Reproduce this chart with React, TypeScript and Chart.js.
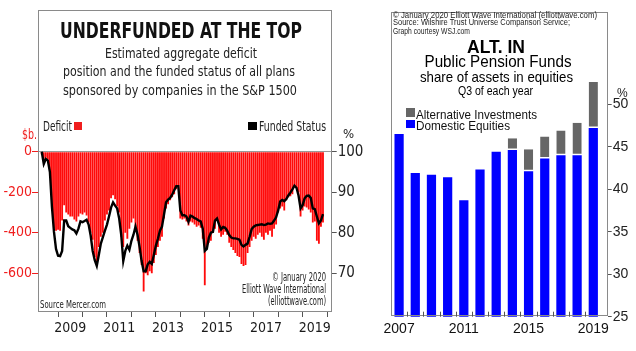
import React, { useEffect, useRef } from "react";
import { Chart, registerables } from "chart.js";
Chart.register(...registerables);

// ---------- Left chart data (monthly, May 2008 .. Nov 2019) ----------
const deficit: number[] = [
  -15, -45, -30, -40, -120, -280, -380, -390, -385, -390,
  -340, -265, -300, -310, -320, -320, -335, -345, -320, -305,
  -310, -300, -315, -350, -400, -435, -520, -540, -470, -420,
  -400, -340, -310, -290, -230, -215, -235, -270, -300, -420,
  -470, -400, -430, -380, -350, -330, -370, -440, -500, -560,
  -690, -600, -610, -590, -600, -550, -510, -470, -440, -420,
  -330, -280, -260, -240, -225, -210, -185, -165, -330, -335,
  -330, -345, -365, -345, -350, -360, -370, -365, -375, -430,
  -660, -470, -450, -440, -400, -380, -340, -400, -420, -410,
  -395, -410, -450, -470, -485, -500, -515, -520, -555, -565,
  -560, -500, -470, -440, -420, -430, -410, -400, -420, -435,
  -400, -410, -390, -420, -380, -360, -300, -280, -270, -290,
  -240, -225, -220, -210, -170, -180, -200, -320, -290, -270,
  -275, -285, -300, -350, -345, -440, -455, -370, -350,
];
const funded: number[] = [
  100, 97, 98.2, 97.8, 95, 86.4, 80.2, 76, 74.3, 74.2,
  75.5, 83, 83, 81.6, 81.2, 80.8, 80.6, 79.8, 81, 82.8,
  82.6, 82.9, 83.2, 82, 79.3, 75.5, 73.2, 71.8, 74.5, 77.3,
  78.9, 80.5, 82, 84, 86.2, 87.5, 86.7, 86, 83.5, 79.5,
  73, 75.5, 76.8, 75.8, 78, 79.5, 81.5, 79.5, 76.5, 73,
  70.5, 70.5, 72.2, 72.8, 72.3, 74.5, 76.8, 78.5, 80.5, 81.5,
  84.5, 87.5, 88.2, 88.6, 89.4, 90.5, 91.5, 91.5, 85.5, 84.3,
  84.3, 84, 82.7, 84.2, 84, 83.6, 83.4, 83, 82.8, 81,
  75.5, 76, 78.8, 80, 80.2, 83, 83.5, 82, 80.8, 81.4,
  81.2, 80.5, 79.4, 78.8, 78.6, 78.6, 78.5, 78.3, 77, 76.6,
  77, 77.3, 79, 80.9, 81.5, 81.8, 81.9, 82, 82.1, 81.9,
  82, 82.3, 82.2, 82.3, 83, 83.8, 85.5, 87.7, 88.1, 87.8,
  88.3, 89.2, 89.9, 90.7, 91.6, 91.1, 89.2, 86, 86.8, 88.5,
  89.1, 89.2, 88.6, 86, 85.8, 84, 82.3, 83, 84.6,
];
// month labels "YYYY-MM", starting at 2008-05
const months: string[] = deficit.map((_, i) => {
  const m = 4 + i;
  return `${2008 + Math.floor(m / 12)}-${String((m % 12) + 1).padStart(2, "0")}`;
});
const leftYearTicks: number[] = [2009, 2010, 2011, 2012, 2013, 2014, 2015, 2016, 2017, 2018, 2019, 2020];
const leftYearLabels: number[] = [2009, 2011, 2013, 2015, 2017, 2019];
const deficitTicks: number[] = [-600, -400, -200, 0];
const fundedTicks: number[] = [70, 80, 90, 100];

// ---------- Right chart data ----------
const years: number[] = [2007, 2008, 2009, 2010, 2011, 2012, 2013, 2014, 2015, 2016, 2017, 2018, 2019];
const domesticEquities: number[] = [46.5, 41.9, 41.7, 41.4, 38.7, 42.3, 44.4, 44.6, 42.1, 43.6, 44.0, 44.0, 47.2];
const alternativeInv: (number | null)[] = [null, null, null, null, null, null, null, 1.4, 2.6, 2.6, 2.9, 3.8, 5.4];
const rightYearLabels: number[] = [2007, 2011, 2015, 2019];
const pctTicks: number[] = [25, 30, 35, 40, 45, 50];

const NARROW = "'Liberation Sans Narrow', 'Arial Narrow', 'DejaVu Sans Condensed', sans-serif";
const SANS = "'Liberation Sans', Arial, Helvetica, sans-serif";
const RED = "#f01e1e";

const monthToYear = (s: string) => {
  const [y, m] = s.split("-").map(Number);
  return y + (m - 1) / 12;
};

function txt(ctx: CanvasRenderingContext2D, s: string, x: number, y: number, font: string, color: string, align: CanvasTextAlign = "left", maxW?: number) {
  ctx.font = font;
  ctx.fillStyle = color;
  ctx.textAlign = align;
  ctx.textBaseline = "alphabetic";
  if (maxW) ctx.fillText(s, x, y, maxW);
  else ctx.fillText(s, x, y);
}

const leftDecor = {
  id: "leftDecor",
  afterDraw(chart: any) {
    const ctx: CanvasRenderingContext2D = chart.ctx;
    const a = chart.chartArea;
    ctx.save();
    ctx.strokeStyle = "#8a8a8a";
    ctx.lineWidth = 1;
    ctx.strokeRect(Math.round(a.left) + 0.5, Math.round(a.top) + 0.5, Math.round(a.right - a.left) - 1, Math.round(a.bottom - a.top) - 1);
    txt(ctx, "UNDERFUNDED AT THE TOP", 181, 38, `bold 22px ${NARROW}`, "#111", "center", 242);
    txt(ctx, "Estimated aggregate deficit", 181, 57.5, `14px ${NARROW}`, "#222", "center", 152);
    txt(ctx, "position and the funded status of all plans", 179, 76, `14px ${NARROW}`, "#222", "center", 232);
    txt(ctx, "sponsored by companies in the S&P 1500", 180, 94.5, `14px ${NARROW}`, "#222", "center", 234);
    txt(ctx, "Deficit", 43, 130.5, `14px ${NARROW}`, "#222", "left", 29);
    ctx.fillStyle = RED;
    ctx.fillRect(74, 122, 8, 8);
    ctx.fillStyle = "#000";
    ctx.fillRect(248, 122, 9, 8);
    txt(ctx, "Funded Status", 259, 130.5, `14px ${NARROW}`, "#222", "left", 67);
    txt(ctx, "$b.", 22, 139, `14px ${NARROW}`, RED, "left", 15);
    txt(ctx, "%", 343, 138, `13px ${NARROW}`, "#222", "left");
    txt(ctx, "Source Mercer.com", 40, 307.5, `11px ${NARROW}`, "#222", "left", 66);
    txt(ctx, "© January 2020", 326, 281, `12px ${NARROW}`, "#222", "right", 54);
    txt(ctx, "Elliott Wave International", 326, 293, `12px ${NARROW}`, "#222", "right", 84);
    txt(ctx, "(elliottwave.com)", 326, 304.5, `12px ${NARROW}`, "#222", "right", 58);
    ctx.restore();
  },
};

const OFF = 360; // right canvas left offset
const rightDecor = {
  id: "rightDecor",
  afterDraw(chart: any) {
    const ctx: CanvasRenderingContext2D = chart.ctx;
    const a = chart.chartArea;
    ctx.save();
    ctx.strokeStyle = "#8a8a8a";
    ctx.lineWidth = 1;
    ctx.strokeRect(Math.round(a.left) + 0.5, Math.round(a.top) + 0.5, Math.round(a.right - a.left) - 1, Math.round(a.bottom - a.top) - 1);
    // x tick marks between bars
    const xs = chart.scales.x;
    ctx.strokeStyle = "#555";
    ctx.beginPath();
    for (let i = 0; i < years.length - 1; i++) {
      const px = Math.round(xs.getPixelForValue(years[i] + 0.5)) + 0.5;
      ctx.moveTo(px, a.bottom - 5);
      ctx.lineTo(px, a.bottom);
    }
    ctx.stroke();
    txt(ctx, "© January 2020 Elliott Wave International (elliottwave.com)", 393 - OFF, 18, `8.5px ${SANS}`, "#222", "left", 204);
    txt(ctx, "Source: Wilshire Trust Universe Comparison Service;", 393 - OFF, 24.5, `8.5px ${SANS}`, "#222", "left", 177);
    txt(ctx, "Graph courtesy WSJ.com", 393 - OFF, 34, `8.5px ${SANS}`, "#222", "left", 77);
    txt(ctx, "ALT. IN", 496 - OFF, 53, `bold 18px ${SANS}`, "#000", "center", 58);
    txt(ctx, "Public Pension Funds", 498 - OFF, 67, `16px ${SANS}`, "#000", "center", 147);
    txt(ctx, "share of assets in equities", 496.5 - OFF, 82, `14.5px ${SANS}`, "#000", "center", 153);
    txt(ctx, "Q3 of each year", 495.5 - OFF, 94.5, `12.5px ${SANS}`, "#000", "center", 75);
    ctx.fillStyle = "#666";
    ctx.fillRect(406 - OFF, 108, 9, 9);
    ctx.fillStyle = "#0000ff";
    ctx.fillRect(406 - OFF, 120, 9, 8);
    txt(ctx, "Alternative Investments", 416 - OFF, 118.5, `13px ${SANS}`, "#111", "left", 121);
    txt(ctx, "Domestic Equities", 416 - OFF, 130, `13px ${SANS}`, "#111", "left", 94);
    txt(ctx, "%", 617 - OFF, 97, `12px ${SANS}`, "#222", "left");
    ctx.restore();
  },
};

function LeftChart() {
  const ref = useRef<HTMLCanvasElement>(null);
  useEffect(() => {
    if (!ref.current) return;
    const xs = months.map(monthToYear);
    const chart = new Chart(ref.current, {
      type: "bar",
      data: {
        datasets: [
          {
            type: "line",
            label: "Funded Status",
            data: xs.map((x, i) => ({ x, y: funded[i] })),
            yAxisID: "y2",
            borderColor: "#000",
            borderWidth: 2.4,
            pointRadius: 0,
            tension: 0,
            order: 1,
          } as any,
          {
            type: "bar",
            label: "Deficit",
            data: xs.map((x, i) => ({ x, y: deficit[i] })),
            yAxisID: "y",
            backgroundColor: "#ff0a0a",
            barPercentage: 0.9,
            categoryPercentage: 1,
            order: 2,
          } as any,
        ],
      },
      options: {
        responsive: false,
        animation: false,
        events: [],
        layout: { padding: { top: 10, left: 0, right: 0, bottom: 0 } },
        plugins: { legend: { display: false }, tooltip: { enabled: false }, title: { display: false } },
        scales: {
          x: {
            type: "linear",
            min: 2008.18,
            max: 2020.19,
            offset: false,
            border: { display: false },
            grid: {
              offset: false,
              drawOnChartArea: false,
              tickLength: 5,
              tickColor: (c: any) => (Number.isInteger(c.tick?.value) ? "#555" : "rgba(0,0,0,0)"),
            },
            afterBuildTicks: (s: any) => {
              const t = [...leftYearTicks.map((v) => ({ value: v })), ...leftYearLabels.map((v) => ({ value: v + 0.5 }))];
              t.sort((p, q) => p.value - q.value);
              s.ticks = t;
            },
            afterFit: (s: any) => {
              s.height = 39;
            },
            ticks: {
              autoSkip: false,
              maxRotation: 0,
              padding: 3,
              color: "#1a1a1a",
              font: { family: NARROW, size: 14 },
              callback: (v: any) => (Number.isInteger(v) ? "" : String(Math.floor(v))),
            },
          },
          y: {
            position: "left",
            min: -791.6,
            max: 699.8,
            border: { display: false },
            grid: {
              color: (c: any) => (c.tick?.value === 0 ? "#9a9a9a" : "rgba(0,0,0,0)"),
              tickColor: RED,
              tickLength: 6,
            },
            afterBuildTicks: (s: any) => {
              s.ticks = deficitTicks.map((v) => ({ value: v }));
            },
            afterFit: (s: any) => {
              s.width = 38;
            },
            ticks: { padding: 0, color: RED, font: { family: NARROW, size: 14 } },
          },
          y2: {
            position: "right",
            min: 60.42,
            max: 135,
            border: { display: false },
            grid: { drawOnChartArea: false, tickColor: "#555", tickLength: 5 },
            afterBuildTicks: (s: any) => {
              s.ticks = fundedTicks.map((v) => ({ value: v }));
            },
            afterFit: (s: any) => {
              s.width = 38.3;
            },
            ticks: { padding: 1, color: "#222", font: { family: NARROW, size: 15 } },
          },
        },
      } as any,
      plugins: [leftDecor],
    });
    return () => chart.destroy();
  }, []);
  return <canvas ref={ref} width={370} height={351} style={{ position: "absolute", left: 0, top: 0 }} />;
}

function RightChart() {
  const ref = useRef<HTMLCanvasElement>(null);
  useEffect(() => {
    if (!ref.current) return;
    const chart = new Chart(ref.current, {
      type: "bar",
      data: {
        datasets: [
          {
            label: "Domestic Equities",
            data: years.map((x, i) => ({ x, y: domesticEquities[i] })),
            backgroundColor: "#0000ff",
            barPercentage: 0.57,
            categoryPercentage: 1,
            stack: "s",
          },
          {
            label: "Alternative Investments",
            data: years.map((x, i) => ({ x, y: alternativeInv[i] })),
            backgroundColor: "#666666",
            borderColor: "#ffffff",
            borderWidth: { top: 0, left: 0, right: 0, bottom: 1.5 },
            borderSkipped: false,
            barPercentage: 0.57,
            categoryPercentage: 1,
            stack: "s",
          },
        ] as any,
      },
      options: {
        responsive: false,
        animation: false,
        events: [],
        layout: { padding: { top: 12.3, left: 31, right: 0, bottom: 0 } },
        plugins: { legend: { display: false }, tooltip: { enabled: false } },
        scales: {
          x: {
            type: "linear",
            stacked: true,
            min: 2006.5,
            max: 2019.89,
            offset: false,
            border: { display: false },
            grid: { display: false, drawTicks: false, offset: false },
            afterBuildTicks: (s: any) => {
              s.ticks = rightYearLabels.map((v) => ({ value: v }));
            },
            afterFit: (s: any) => {
              s.height = 34.3;
            },
            ticks: { autoSkip: false, maxRotation: 0, padding: 4, color: "#111", font: { family: SANS, size: 14 }, callback: (v: any) => String(v) },
          },
          y: {
            position: "right",
            stacked: true,
            min: 25,
            max: 60.8,
            border: { display: false },
            grid: { drawOnChartArea: false, tickColor: "#555", tickLength: 4 },
            afterBuildTicks: (s: any) => {
              s.ticks = pctTicks.map((v) => ({ value: v }));
            },
            afterFit: (s: any) => {
              s.width = 28.3;
            },
            ticks: { padding: 1, color: "#222", font: { family: SANS, size: 14 } },
          },
        },
      } as any,
      plugins: [rightDecor],
    });
    return () => chart.destroy();
  }, []);
  return <canvas ref={ref} width={276} height={351} style={{ position: "absolute", left: OFF, top: 0 }} />;
}

export default function App() {
  return (
    <div style={{ position: "absolute", left: 0, top: 0, width: 636, height: 351, background: "#fff", overflow: "hidden" }}>
      <LeftChart />
      <RightChart />
    </div>
  );
}
